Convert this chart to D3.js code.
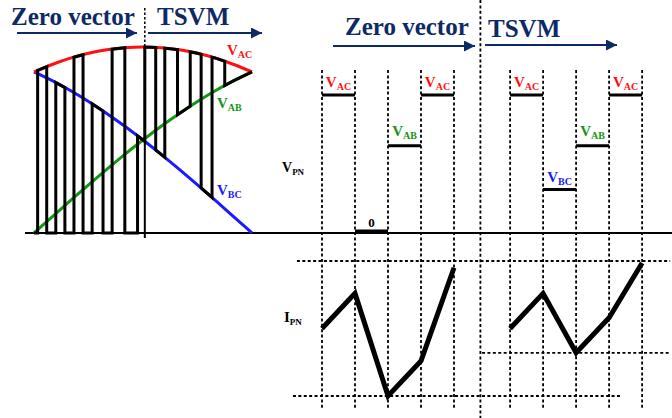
<!DOCTYPE html>
<html><head><meta charset="utf-8">
<script src="https://cdn.jsdelivr.net/npm/d3@7"></script>
<style>body{margin:0;background:#fff}svg{display:block}</style>
</head><body>
<script>
// ---------- data ----------
// left panel: line voltages over one 60° sector (degrees)
const theta = [0,5,10,15,20,25,30,35,40,45,50,55,60];
const vAC = [0.866,0.906,0.940,0.966,0.985,0.996,1.000,0.996,0.985,0.966,0.940,0.906,0.866];
const vAB = [0,0.087,0.174,0.259,0.342,0.423,0.500,0.574,0.643,0.707,0.766,0.819,0.866];
const vBC = [0.866,0.819,0.766,0.707,0.643,0.574,0.500,0.423,0.342,0.259,0.174,0.087,0];
// PWM waveform: switching instants (deg) and the level held in between
const pulseEdges = [0,1,3.5,6,8.5,11,13.5,16,19,21.5,25,28.5,30.5,33.5,36,39.5,43,46,49,52.5,60];
const pulseLevels = ['0','AC','0','BC','0','AC','0','BC','0','AC','0','BC','AC','BC','AC','AB','AC','BC','AC','AB'];
const sectorSplit = 30.5;

// right panel: switching slots
const slotTimes1 = [0,1,2,3,4];
const slotTimes2 = [5.7,6.7,7.7,8.7,9.7];
const splitTime = 4.8;
const vpnLevelValues = {AC:1, AB:0.63, BC:0.31, '0':0};
const vpnSegments1 = ['AC','0','AB','AC'];
const vpnSegments2 = ['AC','BC','AB','AC'];
const ipn1 = [0.50,0.76,0,0.26,0.95];
const ipn2 = [0.50,0.76,0.32,0.58,0.985];
const ipnGuides = [{v:1, t0:-0.76, t1:10.55}, {v:0, t0:-0.88, t1:9.1}, {v:0.32, t0:4.85, t1:10.55}];

// ---------- styles ----------
const W = 672, H = 418;
const navy = '#0c2a66';
const colors = {AC:'#ff1010', AB:'#139613', BC:'#1a1aff', '0':'#000'};
const serif = '"Liberation Serif","Times New Roman",serif';

const svg = d3.select('body').append('svg').attr('width', W).attr('height', H);

const defs = svg.append('defs');
defs.append('marker').attr('id','arr').attr('viewBox','0 0 10 10').attr('refX',10).attr('refY',5)
  .attr('markerUnits','userSpaceOnUse').attr('markerWidth',19).attr('markerHeight',11).attr('orient','auto')
  .append('path').attr('d','M0,0L10,5L0,10Z').attr('fill',navy);

function label(g, x, y, main, sub, color, size, subSize) {
  const t = g.append('text').attr('x', x).attr('y', y).attr('font-family', serif)
    .attr('font-weight','bold').attr('fill', color).attr('font-size', size);
  t.append('tspan').text(main);
  if (sub) t.append('tspan').attr('font-size', subSize).attr('dy', 3).text(sub);
  return t;
}
function header(x, y, txt) {
  svg.append('text').attr('x', x).attr('y', y).attr('font-family', serif).attr('font-weight','bold')
    .attr('font-size', 25).attr('fill', navy).text(txt);
}
function arrow(x1, x2, y) {
  svg.append('line').attr('x1',x1).attr('x2',x2).attr('y1',y).attr('y2',y)
    .attr('stroke',navy).attr('stroke-width',2).attr('marker-end','url(#arr)');
}

// ---------- baseline ----------
svg.append('line').attr('x1',25).attr('x2',W).attr('y1',233).attr('y2',233)
  .attr('stroke','#000').attr('stroke-width',2);

// ---------- left panel ----------
const xL = d3.scaleLinear().domain([0,60]).range([34,252]);
const yL = d3.scaleLinear().domain([0,1]).range([233,47]);
const curves = {AC:vAC, AB:vAB, BC:vBC};
const interp = {};
for (const k in curves) interp[k] = d3.scaleLinear().domain(theta).range(curves[k]);
const lv = (lev, t) => lev === '0' ? 0 : interp[lev](t);

const lineL = d3.line().x(d => xL(d[0])).y(d => yL(d[1]));
const pts = [];
pulseLevels.forEach((lev, i) => {
  const t0 = pulseEdges[i], t1 = pulseEdges[i+1];
  pts.push([t0, lv(lev, t0)]);
  theta.filter(t => t > t0 && t < t1).forEach(t => pts.push([t, lv(lev, t)]));
  pts.push([t1, lv(lev, t1)]);
});

const gL = svg.append('g');
['BC','AB','AC'].forEach(k => {
  gL.append('path').datum(theta.map((t,i) => [t, curves[k][i]]))
    .attr('d', lineL.curve(d3.curveNatural)).attr('fill','none')
    .attr('stroke', colors[k]).attr('stroke-width', 3);
});
gL.append('path').datum(pts).attr('d', d3.line().x(d => xL(d[0])).y(d => yL(d[1]))(pts))
  .attr('fill','none').attr('stroke','#000').attr('stroke-width',3).attr('stroke-linejoin','miter');

// sector divider
gL.append('line').attr('x1',xL(sectorSplit)).attr('x2',xL(sectorSplit)).attr('y1',yL(0)+5).attr('y2',yL(1))
  .attr('stroke','#000').attr('stroke-width',2);
gL.append('line').attr('x1',xL(sectorSplit)).attr('x2',xL(sectorSplit)).attr('y1',8).attr('y2',yL(1))
  .attr('stroke','#000').attr('stroke-width',1.5).attr('stroke-dasharray','2.5,2');

label(gL, 227, 55, 'V', 'AC', colors.AC, 15, 10);
label(gL, 217, 108, 'V', 'AB', colors.AB, 15, 10);
label(gL, 217, 195, 'V', 'BC', colors.BC, 15, 10);

header(11, 25, 'Zero vector');
header(157, 25, 'TSVM');
arrow(17, 137, 33);
arrow(148, 262, 33);

// ---------- right panel ----------
const xR = d3.scaleLinear().domain([0,1]).range([322,355]);
const yV = d3.scaleLinear().domain([0,1]).range([232,95]);
const yI = d3.scaleLinear().domain([0,1]).range([396,261]);
const gR = svg.append('g');
const dotted = sel => sel.attr('stroke','#000').attr('stroke-width',1.8).attr('stroke-dasharray','3,2.4');

// divider
dotted(gR.append('line').attr('x1',xR(splitTime)).attr('x2',xR(splitTime)).attr('y1',0).attr('y2',H));
// slot grid
slotTimes1.concat(slotTimes2).forEach(t => {
  dotted(gR.append('line').attr('x1',xR(t)).attr('x2',xR(t)).attr('y1',70).attr('y2',409));
});
ipnGuides.forEach(g => {
  dotted(gR.append('line').attr('x1',xR(g.t0)).attr('x2',xR(g.t1)).attr('y1',yI(g.v)).attr('y2',yI(g.v)));
});

// V_PN levels
[[slotTimes1, vpnSegments1],[slotTimes2, vpnSegments2]].forEach(([ts, segs]) => {
  segs.forEach((lev, i) => {
    const y = yV(vpnLevelValues[lev]) - (lev === '0' ? 1 : 0);
    gR.append('line').attr('x1',xR(ts[i])).attr('x2',xR(ts[i+1])).attr('y1',y).attr('y2',y)
      .attr('stroke','#000').attr('stroke-width',3);
    const cx = (xR(ts[i]) + xR(ts[i+1])) / 2;
    if (lev === '0') {
      gR.append('text').attr('x',cx).attr('y',y-4).attr('text-anchor','middle').attr('font-family',serif)
        .attr('font-weight','bold').attr('font-size',13).text('0');
    } else {
      const off = lev === 'AB' ? 10 : 8;
      label(gR, cx, y - off, 'V', lev, colors[lev], 15, 10).attr('text-anchor','middle');
    }
  });
});

// I_PN
const lineI = d3.line().x(d => xR(d[0])).y(d => yI(d[1]));
[[slotTimes1, ipn1],[slotTimes2, ipn2]].forEach(([ts, vals]) => {
  gR.append('path').attr('d', lineI(ts.map((t,i) => [t, vals[i]])))
    .attr('fill','none').attr('stroke','#000').attr('stroke-width',5).attr('stroke-linejoin','miter');
});

label(gR, 282, 172, 'V', 'PN', '#000', 14, 9);
label(gR, 284, 322, 'I', 'PN', '#000', 15, 9);

header(345, 35, 'Zero vector');
header(488, 37, 'TSVM');
arrow(333, 475, 46);
arrow(485, 617, 45);
</script>
</body></html>
